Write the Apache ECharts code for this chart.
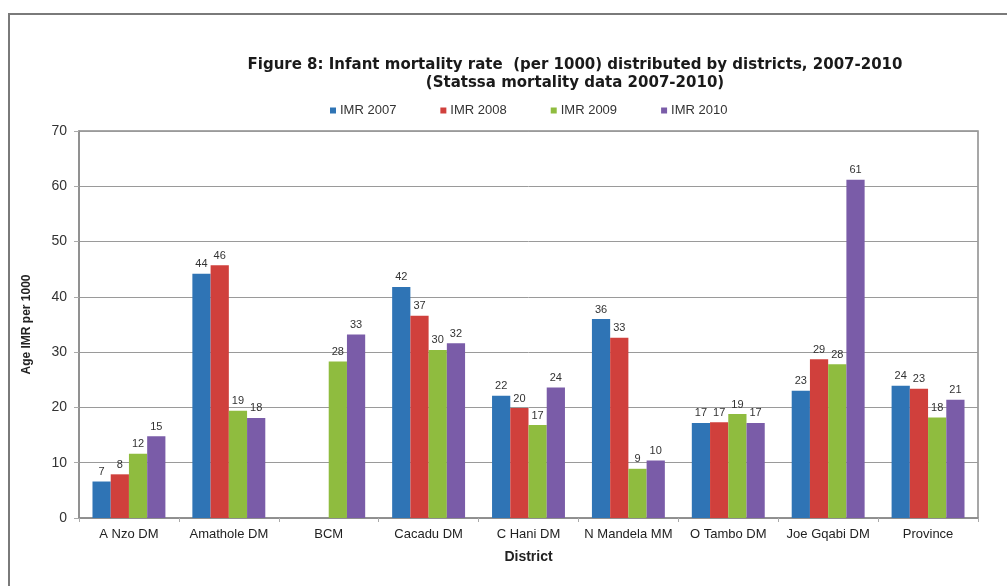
<!DOCTYPE html>
<html>
<head>
<meta charset="utf-8">
<script src="https://cdn.jsdelivr.net/npm/echarts@6/dist/echarts.min.js"></script>
<style>
  html, body { margin: 0; padding: 0; background: #ffffff; }
  #wrap { position: relative; width: 1007px; height: 586px; overflow: hidden; }
  #chart { position: absolute; left: 0; top: 0; width: 1007px; height: 586px; }
  #frame { position: absolute; left: 8px; top: 13px; right: -4px; bottom: -4px;
           border-left: 2px solid #7a7a7a; border-top: 2px solid #7a7a7a; pointer-events: none; }
</style>
</head>
<body>
<div id="wrap">
  <div id="chart"></div>
  <div id="frame"></div>
</div>
<script>
// Districts on the category axis
const districts = ['A Nzo DM', 'Amathole DM', 'BCM', 'Cacadu DM', 'C Hani DM',
  'N Mandela MM', 'O Tambo DM', 'Joe Gqabi DM', 'Province'];

// Infant mortality rate per 1000, one array per year (null = no data)
const imr2007 = [6.6, 44.2, null, 41.8, 22.1, 36.0, 17.2, 23.0, 23.9];
const imr2008 = [7.9, 45.7, null, 36.6, 19.9, 32.6, 17.3, 28.7, 23.4];
const imr2009 = [11.6, 19.4, 28.3, 30.4, 16.8, 8.9, 18.8, 27.8, 18.2];
const imr2010 = [14.8, 18.1, 33.2, 31.6, 23.6, 10.4, 17.2, 61.2, 21.4];

const seriesNames = ['IMR 2007', 'IMR 2008', 'IMR 2009', 'IMR 2010'];
const seriesData = [imr2007, imr2008, imr2009, imr2010];
const colors = ['#2f74b5', '#d0403c', '#8fbc3f', '#7a5ca8'];

const yTicks = { min: 0, max: 70, interval: 10 };

const FONT = '"Liberation Sans", Arial, sans-serif';
const TITLE_FONT = '"DejaVu Sans", "Liberation Sans", sans-serif';

const chart = echarts.init(document.getElementById('chart'), null, { renderer: 'canvas' });

chart.setOption({
  backgroundColor: '#ffffff',
  animation: false,
  color: colors,
  title: {
    text: 'Figure 8: Infant mortality rate  (per 1000) distributed by districts, 2007-2010\n(Statssa mortality data 2007-2010)',
    left: 570,
    top: 51,
    textAlign: 'center',
    textStyle: { fontFamily: TITLE_FONT, fontSize: 15, fontWeight: 'bold', color: '#1a1a1a', lineHeight: 18 }
  },
  legend: {
    left: 325,
    top: 99,
    itemWidth: 6,
    itemHeight: 6,
    itemGap: 44,
    icon: 'rect',
    textStyle: { fontFamily: FONT, fontSize: 13, color: '#333', padding: [0, 0, 0, -1] },
    data: seriesNames
  },
  grid: {
    left: 79, right: 29, top: 131, bottom: 68,
    show: true, borderColor: '#8a8a8a', borderWidth: 1.5,
    containLabel: false
  },
  xAxis: {
    type: 'category',
    data: districts,
    name: 'District',
    nameLocation: 'middle',
    nameGap: 32,
    nameTextStyle: { fontFamily: FONT, fontSize: 14, fontWeight: 'bold', color: '#222' },
    axisLine: { lineStyle: { color: '#8a8a8a', width: 1.5 } },
    axisTick: { show: true, length: 4, lineStyle: { color: '#aaa' } },
    axisLabel: { fontFamily: FONT, fontSize: 13, color: '#222', margin: 10, interval: 0 }
  },
  yAxis: {
    type: 'value',
    min: yTicks.min,
    max: yTicks.max,
    interval: yTicks.interval,
    name: 'Age IMR per 1000',
    nameLocation: 'middle',
    nameGap: 46,
    nameTextStyle: { fontFamily: FONT, fontSize: 12, fontWeight: 'bold', color: '#222' },
    axisLine: { show: true, lineStyle: { color: '#8a8a8a', width: 1.5 } },
    axisTick: { show: true, length: 5, lineStyle: { color: '#aaa' } },
    axisLabel: { fontFamily: FONT, fontSize: 14, color: '#333', margin: 12 },
    splitLine: { lineStyle: { color: '#9a9a9a', width: 1 } }
  },
  series: seriesNames.map((name, i) => ({
    name: name,
    type: 'bar',
    data: seriesData[i],
    barGap: '0%',
    barCategoryGap: '27%',
    itemStyle: { color: colors[i] },
    label: {
      show: true,
      position: 'top',
      distance: 4,
      fontFamily: FONT,
      fontSize: 11,
      color: '#333',
      formatter: p => (p.value == null ? '' : String(Math.round(p.value)))
    }
  }))
});
</script>
</body>
</html>
